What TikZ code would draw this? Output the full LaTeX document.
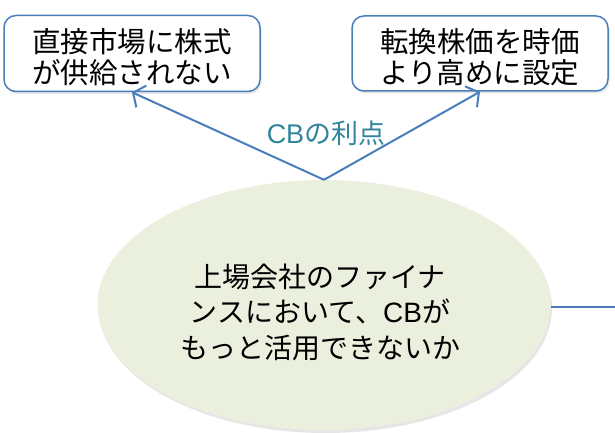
\documentclass[tikz,border=0pt]{standalone}
\usepackage{fontspec}
\setmainfont{Noto Sans CJK JP}
\newfontfamily\latfont{Liberation Sans}
\usetikzlibrary{arrows.meta,shapes.geometric,shadows}
\definecolor{cbblue}{RGB}{74,126,187}
\definecolor{cbteal}{RGB}{49,132,155}
\definecolor{ellfill}{RGB}{235,240,222}
\tikzset{
  benefitbox/.style={draw=cbblue, line width=1.5pt, rounded corners=12pt, fill=white,
    minimum width=256pt, minimum height=76pt, inner sep=0pt,
    drop shadow={opacity=0.18, shadow xshift=1.5pt, shadow yshift=-2.5pt}},
  bigtext/.style={font=\fontsize{28.5}{31}\selectfont, align=center, text=black},
  conn/.style={draw=cbblue, line width=2pt},
  tip/.style={-{Straight Barb[length=9pt,width=24pt,line width=2pt]}}
}
\begin{document}
\begin{tikzpicture}[x=1pt,y=1pt]
\useasboundingbox (0,0) rectangle (615,-433);
\node[benefitbox] (lbox) at (132,-53.5) {};
\node[bigtext] (ltext) at (132,-57.5) {直接市場に株式\\が供給されない};
\node[benefitbox, minimum height=75pt] (rbox) at (480,-53.5) {};
\node[bigtext] (rtext) at (480,-57.5) {転換株価を時価\\より高めに設定};
\node[ellipse, fill=ellfill, minimum width=453pt, minimum height=250pt, inner sep=0pt,
  drop shadow={opacity=0.2, shadow xshift=1.5pt, shadow yshift=-3pt}] (ell) at (324,-305) {};
\node[font=\fontsize{28}{35.5}\selectfont, align=center] (etext) at (320,-312)
  {上場会社のファイナ\\ンスにおいて、{\latfont CB}が\\もっと活用できないか};
\coordinate (apex) at (ell.north);
\coordinate (rend) at (615,-307);
\draw[conn, tip] (apex) -- (lbox.south);
\draw[conn, tip] (apex) -- (rbox.south);
\draw[conn] (ell.east |- rend) -- (rend);
\node[text=cbteal, font=\fontsize{27}{30}\selectfont] (lab) at (326,-133) {{\latfont CB}の利点};
\end{tikzpicture}
\end{document}
